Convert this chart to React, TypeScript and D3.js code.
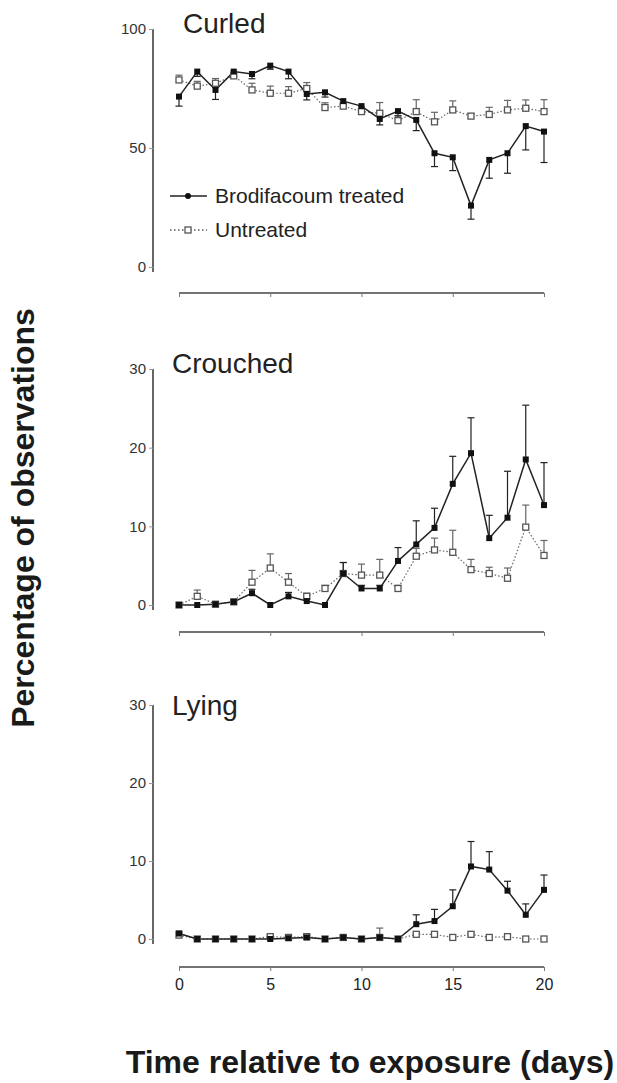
import * as d3 from 'd3';
import React, { useEffect, useRef } from 'react';

// days 0..20
const days = d3.range(0, 21);

// Curled (%)
const curledTreated = [71.6, 82.1, 74.4, 82.1, 81.1, 84.6, 82.1, 72.7, 73.4, 69.7, 67.6, 62.2, 65.5, 61.8, 47.8, 46.1, 25.8, 45.0, 47.8, 59.2, 56.9];
const curledTreatedErr = [4, 2, 4, 2, 2, 1.5, 3, 2.5, 2, 1.5, 2, 2.5, 2, 4.5, 5.6, 5.6, 5.7, 7.7, 8.4, 10, 13];
const curledUntreated = [78.6, 76.0, 77.2, 80.3, 74.4, 73.0, 73.0, 75.0, 67.0, 67.6, 65.3, 64.6, 61.5, 65.3, 61.0, 66.0, 63.4, 64.1, 66.0, 66.7, 65.3];
const curledUntreatedErr = [2, 2, 2, 2, 2.8, 3, 2.8, 2.5, 2, 1.5, 2, 4.5, 2, 5, 4, 3.8, 1, 3, 4, 3.5, 5];

// Crouched (%)
const crouchedTreated = [0, 0, 0.1, 0.4, 1.5, 0, 1.1, 0.5, 0, 4.0, 2.1, 2.1, 5.6, 7.7, 9.8, 15.4, 19.3, 8.5, 11.1, 18.5, 12.7];
const crouchedTreatedErr = [0, 0, 0, 0, 0.5, 0, 0.5, 0.3, 0, 1.4, 0.4, 0.4, 1.7, 3.0, 2.5, 3.5, 4.5, 2.9, 5.9, 6.9, 5.4];
const crouchedUntreated = [0, 1.1, 0.1, 0.4, 2.9, 4.7, 2.9, 1.1, 2.1, 4.0, 3.8, 3.8, 2.1, 6.2, 7.0, 6.7, 4.5, 4.0, 3.4, 9.9, 6.3];
const crouchedUntreatedErr = [0, 0.8, 0, 0, 1.5, 1.8, 1.1, 0.4, 0.4, 1.4, 1.4, 2.0, 0.4, 1.0, 1.5, 2.8, 1.3, 0.8, 1.3, 2.8, 1.9];

// Lying (%)
const lyingTreated = [0.7, 0, 0, 0, 0, 0, 0.1, 0.2, 0, 0.2, 0, 0.2, 0, 1.9, 2.3, 4.2, 9.3, 8.9, 6.2, 3.1, 6.3];
const lyingTreatedErr = [0.3, 0, 0, 0, 0, 0, 0, 0.2, 0, 0.2, 0, 0.2, 0, 1.2, 1.5, 2.1, 3.2, 2.3, 1.2, 1.4, 1.9];
const lyingUntreated = [0.5, 0, 0, 0, 0, 0.3, 0.2, 0.3, 0, 0.2, 0, 0.2, 0, 0.6, 0.6, 0.2, 0.6, 0.2, 0.3, 0, 0];
const lyingUntreatedErr = [0.2, 0, 0, 0, 0, 0.2, 0.2, 0.3, 0, 0.2, 0, 1.2, 0, 0.2, 0.2, 0.1, 0.2, 0.1, 0.1, 0, 0];

const panelTitles = ['Curled', 'Crouched', 'Lying'];
const panelMax = [100, 30, 30];
const panelTicks = [[0, 50, 100], [0, 10, 20, 30], [0, 10, 20, 30]];
const xTicks = [0, 5, 10, 15, 20];

const FONT = "'Liberation Sans', Arial, sans-serif";

const App = () => {
  const svgRef = useRef();

  useEffect(() => {
    const svg = d3.select(svgRef.current);
    svg.selectAll('*').remove();

    const x = d3.scaleLinear().domain([0, 20]).range([179, 544]);

    // pixel range of each panel, x axis position, title spot
    // treatedDir: 1 = treated error bars hang below the point
    const layout = [
      { top: 29, bottom: 267, xAxisY: 293, titleX: 183, titleY: 33, treatedDir: 1 },
      { top: 369, bottom: 605, xAxisY: 632, titleX: 172, titleY: 373, treatedDir: -1 },
      { top: 705, bottom: 939, xAxisY: 967, titleX: 172, titleY: 715, treatedDir: -1 },
    ];
    const series = [
      [curledTreated, curledTreatedErr, curledUntreated, curledUntreatedErr],
      [crouchedTreated, crouchedTreatedErr, crouchedUntreated, crouchedUntreatedErr],
      [lyingTreated, lyingTreatedErr, lyingUntreated, lyingUntreatedErr],
    ];

    layout.forEach((L, i) => {
      const y = d3.scaleLinear().domain([0, panelMax[i]]).range([L.bottom, L.top]);
      const g = svg.append('g');

      // y axis
      const yAxis = d3.axisLeft(y).tickValues(panelTicks[i]).tickSize(4).tickPadding(3);
      const ya = g.append('g').attr('transform', 'translate(153,0)').call(yAxis);
      ya.select('.domain').attr('d', `M0,${L.top}V${L.bottom + 5}`).attr('stroke', '#333').attr('stroke-width', 1.5);
      ya.selectAll('.tick line').attr('stroke', '#999');
      ya.selectAll('.tick text').attr('font-family', FONT).attr('font-size', 15).attr('fill', '#333');

      // x axis, labels only on the bottom panel
      const xAxis = d3.axisBottom(x).tickValues(xTicks).tickSize(4).tickFormat(i === 2 ? d3.format('d') : () => '');
      const xa = g.append('g').attr('transform', `translate(0,${L.xAxisY})`).call(xAxis);
      xa.select('.domain').attr('d', `M${x(0)},0H${x(20)}`).attr('stroke', '#444').attr('stroke-width', 1.5);
      xa.selectAll('.tick line').attr('stroke', '#777');
      xa.selectAll('.tick text').attr('font-family', FONT).attr('font-size', 16).attr('fill', '#222').attr('dy', '1em');

      // title
      g.append('text').attr('x', L.titleX).attr('y', L.titleY).attr('font-family', FONT)
        .attr('font-size', 28).attr('fill', '#222').text(panelTitles[i]);

      const [tv, te, uv, ue] = series[i];
      const line = (vals) => d3.line().x((d, k) => x(days[k])).y((d) => y(d))(vals);

      // untreated
      g.append('path').attr('d', line(uv)).attr('fill', 'none').attr('stroke', '#666')
        .attr('stroke-width', 1.2).attr('stroke-dasharray', '1.5,2');
      // treated
      g.append('path').attr('d', line(tv)).attr('fill', 'none').attr('stroke', '#222').attr('stroke-width', 1.5);

      const errBars = (vals, errs, dir, color) => {
        const eg = g.append('g').attr('stroke', color).attr('stroke-width', 1.2);
        vals.forEach((v, k) => {
          if (!errs[k]) return;
          const y2 = dir === 1 ? y(v - errs[k]) : y(v + errs[k]);
          eg.append('line').attr('x1', x(days[k])).attr('x2', x(days[k])).attr('y1', y(v)).attr('y2', y2);
          eg.append('line').attr('x1', x(days[k]) - 3.5).attr('x2', x(days[k]) + 3.5).attr('y1', y2).attr('y2', y2);
        });
      };
      errBars(uv, ue, -1, '#666');
      errBars(tv, te, L.treatedDir, '#222');

      g.selectAll('.uMark').data(uv).enter().append('rect')
        .attr('x', (d, k) => x(days[k]) - 3).attr('y', (d) => y(d) - 3)
        .attr('width', 6).attr('height', 6).attr('fill', '#fff').attr('stroke', '#555').attr('stroke-width', 1.3);
      g.selectAll('.tMark').data(tv).enter().append('rect')
        .attr('x', (d, k) => x(days[k]) - 3).attr('y', (d) => y(d) - 3)
        .attr('width', 6).attr('height', 6).attr('fill', '#111');
    });

    // legend (in top panel)
    const lg = svg.append('g');
    lg.append('line').attr('x1', 170).attr('x2', 207).attr('y1', 196).attr('y2', 196).attr('stroke', '#222').attr('stroke-width', 1.5);
    lg.append('circle').attr('cx', 188).attr('cy', 196).attr('r', 3).attr('fill', '#111');
    lg.append('text').attr('x', 215).attr('y', 203).attr('font-family', FONT).attr('font-size', 21).attr('fill', '#222').text('Brodifacoum treated');
    lg.append('line').attr('x1', 170).attr('x2', 207).attr('y1', 230).attr('y2', 230).attr('stroke', '#555')
      .attr('stroke-width', 1.3).attr('stroke-dasharray', '1.5,2.5');
    lg.append('rect').attr('x', 185).attr('y', 227).attr('width', 6).attr('height', 6).attr('fill', '#fff').attr('stroke', '#555').attr('stroke-width', 1.3);
    lg.append('text').attr('x', 215).attr('y', 237).attr('font-family', FONT).attr('font-size', 21).attr('fill', '#222').text('Untreated');

    // axis titles
    svg.append('text').attr('transform', 'translate(34,518) rotate(-90)').attr('text-anchor', 'middle')
      .attr('font-family', FONT).attr('font-weight', 'bold').attr('font-size', 32).attr('fill', '#1a1a1a')
      .text('Percentage of observations');
    svg.append('text').attr('x', 370).attr('y', 1073).attr('text-anchor', 'middle')
      .attr('font-family', FONT).attr('font-weight', 'bold').attr('font-size', 32).attr('fill', '#1a1a1a')
      .text('Time relative to exposure (days)');
  }, []);

  return (
    <svg ref={svgRef} width={617} height={1083}
      style={{ position: 'absolute', left: 0, top: 0, background: '#fff' }} />
  );
};

export default App;
